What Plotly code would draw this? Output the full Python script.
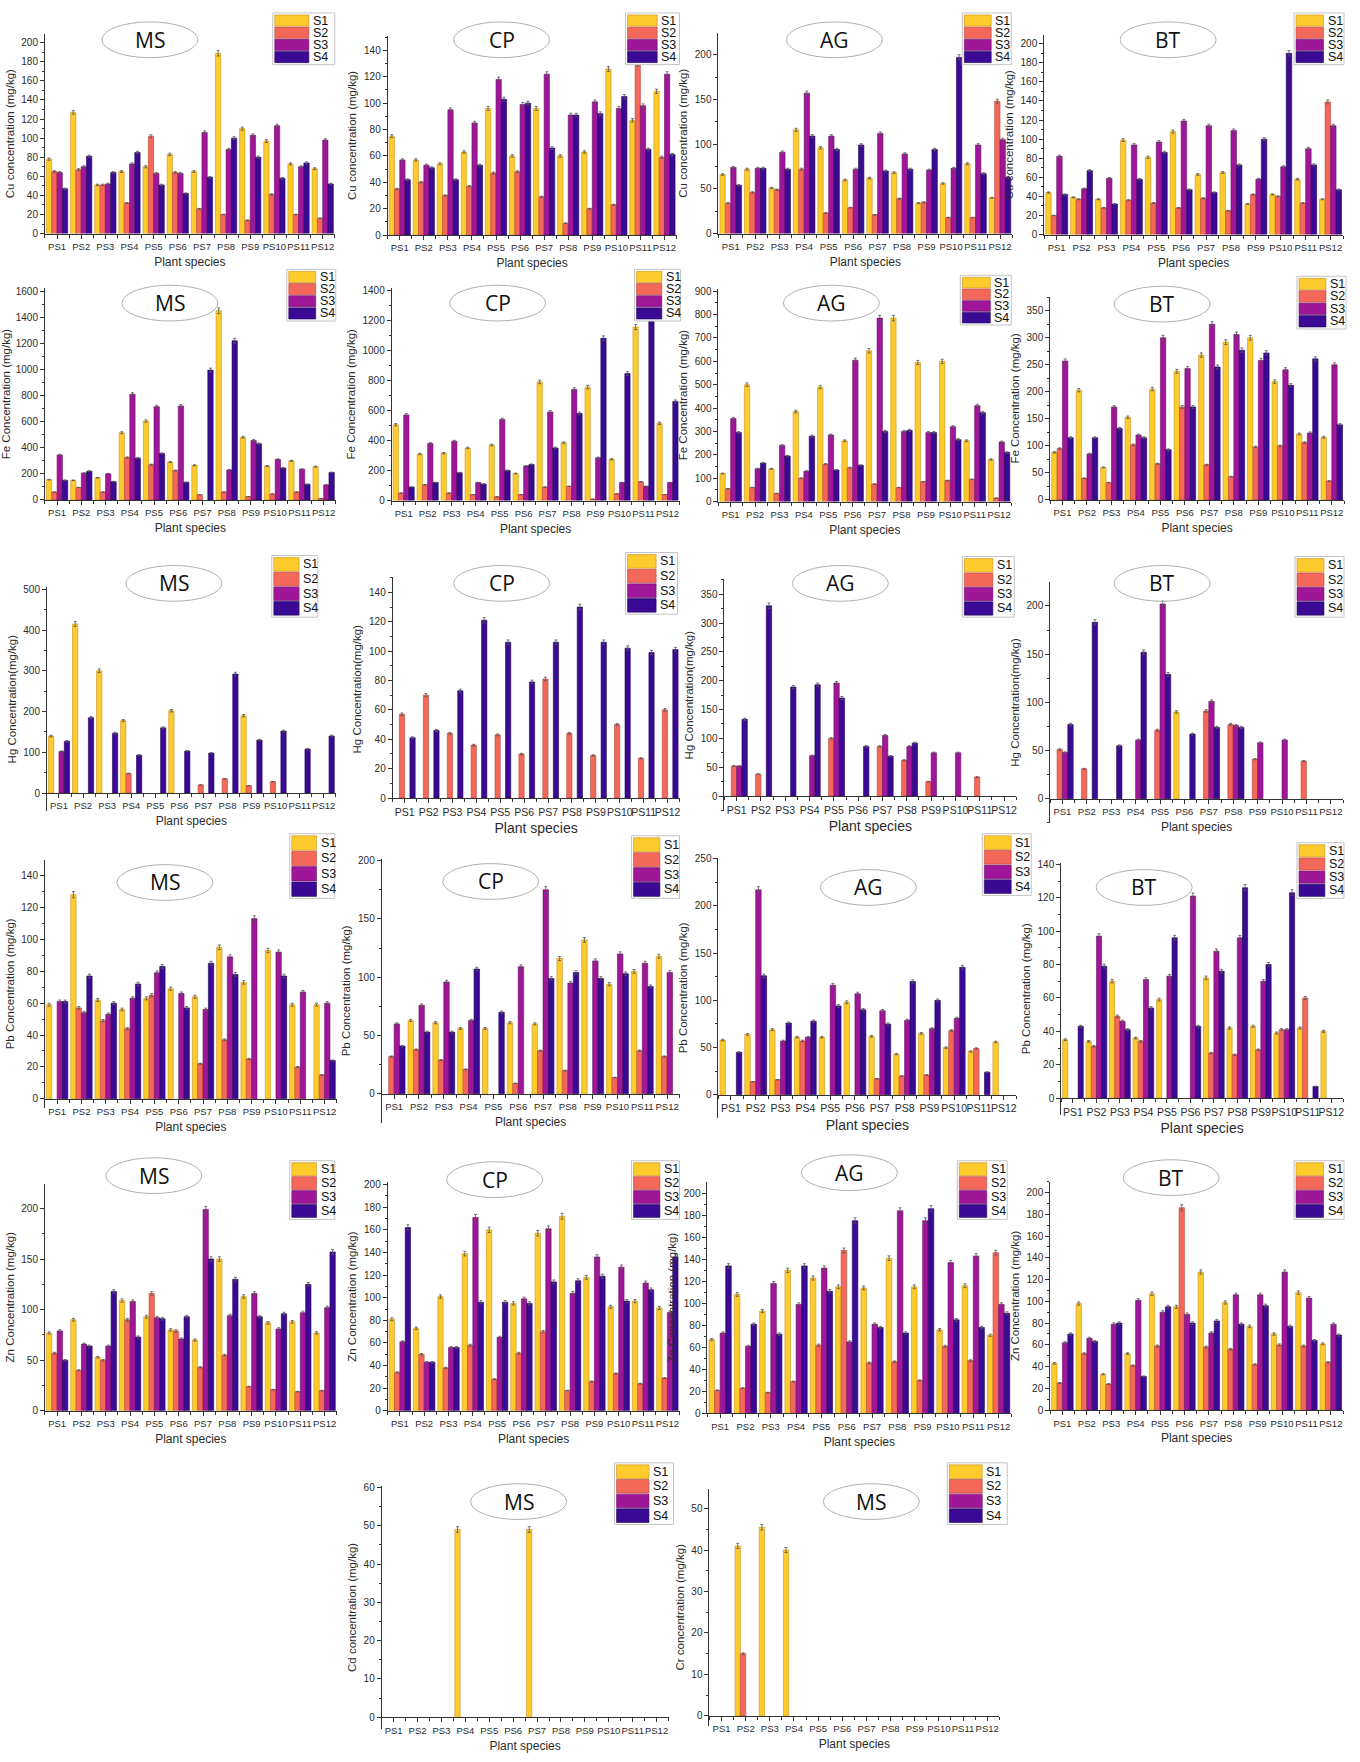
import plotly.graph_objects as go

W, H = 1360, 1762

species = ["PS1", "PS2", "PS3", "PS4", "PS5", "PS6",
           "PS7", "PS8", "PS9", "PS10", "PS11", "PS12"]
series_names = ["S1", "S2", "S3", "S4"]
N = None

# ---------------- Cu (mg/kg) ----------------
cu_ms = [[78, 127, 51, 65, 70, 83, 65, 189, 110, 97, 73, 68],
         [65, 67, 51, 32, 102, 64, 26, 20, 14, 41, 20, 16],
         [64, 70, 52, 73, 63, 63, 106, 88, 103, 113, 70, 98],
         [47, 81, 64, 85, 51, 42, 59, 100, 80, 58, 74, 52]]
cu_cp = [[75, 57, 54, 63, 96, 60, 96, 60, 63, 126, 87, 109],
         [35, 40, 30, 37, 47, 48, 29, 9, 20, 23, 130, 59],
         [57, 53, 95, 85, 118, 99, 122, 91, 101, 96, 98, 122],
         [42, 51, 42, 53, 103, 100, 66, 91, 92, 105, 65, 61]]
cu_ag = [[66, 72, 51, 116, 96, 60, 62, 68, 34, 56, 78, 40],
         [34, 46, 49, 72, 23, 29, 21, 39, 35, 18, 18, 148],
         [74, 73, 91, 157, 109, 72, 112, 89, 71, 73, 99, 105],
         [54, 73, 72, 109, 94, 99, 70, 72, 94, 197, 67, 63]]
cu_bt = [[44, 39, 37, 99, 81, 108, 63, 65, 32, 42, 58, 37],
         [20, 37, 28, 36, 33, 28, 38, 25, 42, 40, 33, 139],
         [82, 48, 59, 94, 97, 119, 114, 109, 58, 71, 90, 114],
         [42, 67, 32, 58, 86, 47, 44, 73, 100, 190, 73, 47]]

# ---------------- Fe (mg/kg) ----------------
fe_ms = [[155, 150, 170, 515, 605, 290, 265, 1450, 480, 260, 300, 255],
         [60, 95, 60, 325, 270, 225, 40, 60, 25, 45, 60, 10],
         [345, 205, 200, 810, 715, 720, N, 230, 455, 310, 235, 115],
         [150, 220, 140, 320, 355, 135, 995, 1220, 430, 245, 120, 210]]
fe_cp = [[505, 310, 315, 350, 370, 180, 790, 385, 755, 275, 1155, 515],
         [50, 105, 50, 40, 25, 40, 90, 95, 10, 45, 125, 40],
         [570, 380, 395, 120, 540, 230, 590, 740, 285, 120, 95, 120],
         [90, 120, 185, 110, 200, 240, 350, 580, 1080, 845, 1215, 660]]
fe_ag = [[120, 500, 140, 385, 490, 260, 645, 785, 595, 600, 260, 180],
         [55, 60, 35, 100, 160, 145, 75, 60, 85, 90, 95, 15],
         [355, 140, 240, 130, 285, 605, 785, 300, 295, 320, 410, 255],
         [295, 165, 195, 280, 135, 155, 300, 305, 295, 265, 380, 210]]
fe_bt = [[88, 203, 60, 153, 205, 238, 268, 292, 300, 219, 122, 116],
         [95, 40, 32, 102, 67, 172, 65, 43, 98, 100, 106, 35],
         [257, 85, 172, 120, 300, 243, 325, 306, 258, 241, 124, 250],
         [115, 115, 132, 115, 93, 172, 246, 277, 272, 212, 261, 139]]

# ---------------- Hg (mg/kg) ----------------
hg_ms = [[140, 415, 300, 178, N, 202, N, N, 190, N, N, N],
         [N, N, N, 48, N, N, 20, 35, 18, 28, N, N],
         [102, N, N, N, N, N, N, N, N, N, N, N],
         [127, 185, 147, 93, 160, 103, 98, 292, 130, 152, 108, 140]]
hg_cp = [[N] * 12,
         [57, 70, 44, 36, 43, 30, 81, 44, 29, 50, 27, 60],
         [N] * 12,
         [41, 46, 73, 121, 106, 79, 106, 130, 106, 102, 99, 101]]
hg_ag = [[N] * 12,
         [52, 38, N, N, 100, N, 86, 62, 25, N, 33, N],
         [52, N, N, 70, 196, N, 105, 86, 75, 75, N, N],
         [133, 330, 189, 193, 170, 86, 69, 92, N, N, N, N]]
hg_bt = [[N, N, N, N, N, 90, N, N, N, N, N, N],
         [51, 31, N, N, 71, N, 91, 77, 41, N, 39, N],
         [48, N, N, 61, 202, N, 101, 76, 58, 61, N, N],
         [77, 183, 55, 152, 129, 67, 74, 74, N, N, N, N]]

# ---------------- Pb (mg/kg) ----------------
pb_ms = [[59, 128, 62, 56, 63, 69, 64, 95, 73, 93, 59, 59],
         [N, 57, 49, 44, 65, N, 22, 37, 25, N, 20, 15],
         [61, 54, 53, 63, 79, 66, 56, 89, 113, 92, 67, 60],
         [61, 77, 60, 72, 83, 57, 85, 78, N, 77, N, 24]]
pb_cp = [[N, 63, 61, 56, 56, 61, 60, 116, 132, 94, 105, 118],
         [32, 38, 29, 21, N, 9, 37, 20, N, 14, 37, 32],
         [60, 76, 96, 63, N, 109, 175, 95, 114, 120, 112, 104],
         [41, 53, 53, 107, 70, N, 99, 104, 99, 103, 92, N]]
pb_ag = [[58, 64, 69, 61, 61, 98, 62, 43, 65, 50, 46, 56],
         [N, 14, 16, 57, N, N, 17, 20, 21, 68, 49, N],
         [N, 217, 57, 61, 116, 107, 89, 79, 70, 81, N, N],
         [45, 126, 76, 78, 94, 90, 75, 120, 100, 135, 24, N]]
pb_bt = [[35, 34, 70, 36, 59, N, 72, 42, 43, 39, 42, 40],
         [N, 31, 49, 34, N, N, 27, 26, 29, 41, 60, N],
         [N, 97, 46, 71, 73, 121, 88, 96, 70, 41, N, N],
         [43, 79, 41, 54, 96, 43, 76, 126, 80, 123, 7, N]]

# ---------------- Zn (mg/kg) ----------------
zn_ms = [[77, 90, 53, 109, 93, 80, 70, 150, 113, 87, 88, 77],
         [57, 40, 50, 90, 116, 79, 43, 55, 24, 21, 19, 20],
         [79, 66, 64, 108, 92, 71, 199, 94, 116, 81, 97, 102],
         [50, 64, 118, 73, 91, 93, 150, 130, 93, 96, 125, 157]]
zn_cp = [[81, 73, 101, 139, 160, 95, 157, 172, 118, 92, 97, 91],
         [34, 50, 38, 58, 28, 51, 70, 18, 26, 33, 24, 29],
         [61, 43, 56, 171, 65, 99, 161, 104, 136, 127, 113, 87],
         [162, 43, 56, 96, 96, 95, 114, 115, 119, 97, 107, 136]]
zn_ag = [[67, 108, 93, 130, 123, 115, 114, 141, 115, 76, 116, 71],
         [21, 23, 19, 29, 62, 148, 46, 47, 30, 61, 48, 146],
         [73, 61, 118, 99, 132, 65, 81, 184, 175, 137, 143, 99],
         [134, 81, 72, 134, 111, 175, 78, 73, 186, 85, 78, 91]]
zn_bt = [[43, 98, 33, 52, 107, 95, 127, 99, 77, 70, 108, 61],
         [25, 52, 24, 41, 59, 186, 58, 56, 42, 60, 59, 44],
         [62, 66, 79, 101, 90, 88, 71, 106, 106, 127, 103, 79],
         [70, 63, 80, 31, 95, 80, 82, 79, 96, 77, 64, 69]]

# ---------------- Cd / Cr (mg/kg) ----------------
cd_ms = [[N, N, N, 49, N, N, 49, N, N, N, N, N],
         [N] * 12, [N] * 12, [N] * 12]
cr_ms = [[N, 41, 45.5, 40, N, N, N, N, N, N, N, N],
         [N, 15, N, N, N, N, N, N, N, N, N, N],
         [N] * 12, [N] * 12]

# ---------------- styling ----------------
COLORS = ["#FDCB2C", "#F4685A", "#9F1699", "#3A0A94"]
EDGES = ["#C98F22", "#B8453A", "#6B0F68", "#220558"]
FONT = "Liberation Sans, Arial, sans-serif"
TXT = "#2b2b2b"

# Panel layout in page pixels:
# x0/x1 = plot extent, zero = pixel row of y=0, ref/ref_px = a labelled tick
# and its pixel row, top/bottom = ends of the y-axis line.
PANELS = [
    # Cu
    dict(data=cu_ms, site="MS", ytitle="Cu concentration (mg/kg)", x0=45, x1=335, zero=230, ref=200, ref_px=38, top=29, bottom=230, dtick=20,
         legend=(273, 8, 335, 60), ell=(150, 35)),
    dict(data=cu_cp, site="CP", ytitle="Cu concentration (mg/kg)", x0=388, x1=677, zero=231.5, ref=140, ref_px=45.7, top=31, bottom=231.5, dtick=20,
         legend=(626, 8, 680, 60), ell=(502, 35)),
    dict(data=cu_ag, site="AG", ytitle="Cu concentration (mg/kg)", x0=719, x1=1013, zero=230, ref=200, ref_px=50, top=28, bottom=230, dtick=50,
         legend=(963, 8, 1012, 60), ell=(835, 35)),
    dict(data=cu_bt, site="BT", ytitle="Cu concentration (mg/kg)", x0=1045, x1=1344, zero=231, ref=200, ref_px=39, top=30, bottom=231, dtick=20,
         legend=(1295, 8, 1345, 60), ell=(1169, 35)),
    # Fe
    dict(data=fe_ms, site="MS", ytitle="Fe Concentration (mg/kg)", x0=45, x1=336, zero=498, ref=1600, ref_px=288, top=285, bottom=498, dtick=200,
         legend=(287, 266, 336, 318), ell=(170, 300)),
    dict(data=fe_cp, site="CP", ytitle="Fe Concentration (mg/kg)", x0=392, x1=680, zero=498.7, ref=1400, ref_px=287, top=284.7, bottom=498.7, dtick=200,
         legend=(635, 266, 681, 318), ell=(498, 300)),
    dict(data=fe_ag, site="AG", ytitle="Fe Concentration (mg/kg)", x0=719, x1=1012, zero=499.7, ref=900, ref_px=288, top=285.3, bottom=499.7, dtick=100,
         legend=(961, 272, 1012, 322), ell=(832, 300)),
    dict(data=fe_bt, site="BT", ytitle="Fe Concentration (mg/kg)", x0=1051, x1=1345, zero=498, ref=350, ref_px=307.7, top=293.7, bottom=498, dtick=50,
         legend=(1298, 273, 1347, 326), ell=(1163, 301)),
    # Hg
    dict(data=hg_ms, site="MS", ytitle="Hg Concentration(mg/kg)", x0=47, x1=336, zero=793, ref=500, ref_px=588, top=586, bottom=811, dtick=100,
         legend=(272, 554, 318, 616), ell=(174, 582)),
    dict(data=hg_cp, site="CP", ytitle="Hg Concentration(mg/kg)", x0=393, x1=680, zero=798, ref=140, ref_px=591, top=576, bottom=801, dtick=20,
         legend=(626, 551, 678, 613), ell=(502, 582), big=True),
    dict(data=hg_ag, site="AG", ytitle="Hg Concentration(mg/kg)", x0=725, x1=1017, zero=796, ref=350, ref_px=593, top=578, bottom=811, dtick=50,
         legend=(963, 555, 1015, 616), ell=(841, 582), big=True),
    dict(data=hg_bt, site="BT", ytitle="Hg Concentration(mg/kg)", x0=1051, x1=1344, zero=798.7, ref=200, ref_px=604.7, top=580.7, bottom=823, dtick=50,
         legend=(1296, 555, 1345, 616), ell=(1163, 582)),
    # Pb
    dict(data=pb_ms, site="MS", ytitle="Pb Concentration (mg/kg)", x0=45, x1=337, zero=1100.7, ref=140, ref_px=876, top=860, bottom=1110, dtick=20,
         legend=(290, 834, 335, 899), ell=(165, 883)),
    dict(data=pb_cp, site="CP", ytitle="Pb Concentration (mg/kg)", x0=382, x1=680, zero=1095.7, ref=200, ref_px=861, top=859, bottom=1125, dtick=50,
         legend=(632, 836, 680, 899), ell=(491, 882)),
    dict(data=pb_ag, site="AG", ytitle="Pb Concentration (mg/kg)", x0=719, x1=1017, zero=1096.7, ref=250, ref_px=859, top=858, bottom=1120, dtick=50,
         legend=(983, 834, 1032, 896), ell=(869, 888), big=True),
    dict(data=pb_bt, site="BT", ytitle="Pb Concentration (mg/kg)", x0=1062, x1=1344, zero=1100, ref=140, ref_px=864.7, top=863, bottom=1116.7, dtick=20,
         legend=(1298, 843, 1345, 899), ell=(1145, 888), big=True),
    # Zn
    dict(data=zn_ms, site="MS", ytitle="Zn Concentration (mg/kg)", x0=45, x1=337, zero=1414.7, ref=200, ref_px=1211, top=1186, bottom=1414.7, dtick=50,
         legend=(290, 1163, 335, 1222), ell=(154, 1178)),
    dict(data=zn_cp, site="CP", ytitle="Zn Concentration (mg/kg)", x0=388, x1=680, zero=1414.7, ref=200, ref_px=1187, top=1184.7, bottom=1414.7, dtick=20,
         legend=(632, 1163, 680, 1222), ell=(495, 1182)),
    dict(data=zn_ag, site="AG", ytitle="Zn Concentration (mg/kg)", x0=708, x1=1012, zero=1417.3, ref=200, ref_px=1195.7, top=1184.7, bottom=1417.3, dtick=20,
         legend=(958, 1163, 1008, 1222), ell=(850, 1175)),
    dict(data=zn_bt, site="BT", ytitle="Zn Concentration (mg/kg)", x0=1051, x1=1344, zero=1414, ref=200, ref_px=1195, top=1184, bottom=1414, dtick=20,
         legend=(1295, 1163, 1345, 1222), ell=(1172, 1180)),
    # Cd, Cr
    dict(data=cd_ms, site="MS", ytitle="Cd concentration (mg/kg)", x0=382, x1=669, zero=1723, ref=60, ref_px=1491.7, top=1490, bottom=1735, dtick=10,
         legend=(615, 1467, 674, 1529), ell=(519, 1506)),
    dict(data=cr_ms, site="MS", ytitle="Cr concentration (mg/kg)", x0=710, x1=1000, zero=1721.7, ref=50, ref_px=1513, top=1493, bottom=1731.7, dtick=10,
         legend=(948, 1467, 1008, 1529), ell=(872, 1506)),
]


def fx(px):
    return px / W


def fy(py):
    return 1 - py / H


fig = go.Figure()
shapes, annotations = [], []
layout_axes = {}
xs = list(range(1, len(species) + 1))

for i, p in enumerate(PANELS):
    n = i + 1
    suf = "" if n == 1 else str(n)
    xa, ya = "x" + suf, "y" + suf

    scale = p["ref"] / (p["zero"] - p["ref_px"])
    ymax = (p["zero"] - p["top"]) * scale
    ymin = -(p["bottom"] - p["zero"]) * scale
    big = p.get("big", False)

    for k in range(4):
        fig.add_trace(go.Bar(
            x=xs, y=p["data"][k], name=series_names[k],
            xaxis=xa, yaxis=ya, showlegend=False,
            marker=dict(color=COLORS[k], line=dict(color=EDGES[k], width=0.6)),
            error_y=dict(type="percent", value=1.5, color="#555555",
                         thickness=0.8, width=1.5),
        ))

    xaxis = dict(
        domain=[fx(p["x0"]), fx(p["x1"])],
        range=[0.5, 12.5],
        tickmode="array", tickvals=xs, ticktext=species, tickangle=0,
        ticks="outside", ticklen=4, tickwidth=1, tickcolor="#333",
        minor=dict(ticks="outside", tick0=0.5, dtick=1, ticklen=3, tickcolor="#333"),
        showline=True, linecolor="#333", linewidth=1,
        showgrid=False, zeroline=False,
        tickfont=dict(family=FONT, size=10.5 if big else 9.5, color=TXT),
        title=dict(text="Plant species", standoff=6,
                   font=dict(family=FONT, size=14 if big else 12, color=TXT)),
    )
    if p["bottom"] - p["zero"] > 1:
        xaxis.update(anchor="free", position=fy(p["zero"]))
    else:
        xaxis.update(anchor=ya)

    yaxis = dict(
        domain=[fy(p["bottom"]), fy(p["top"])],
        range=[ymin, ymax], anchor=xa,
        tick0=0, dtick=p["dtick"], tickformat="d",
        ticks="outside", ticklen=4, tickwidth=1, tickcolor="#333",
        minor=dict(ticks="outside", dtick=p["dtick"] / 2, ticklen=2, tickcolor="#333"),
        showline=True, linecolor="#333", linewidth=1,
        showgrid=False, zeroline=False,
        tickfont=dict(family=FONT, size=10, color=TXT),
        title=dict(text=p["ytitle"], standoff=4,
                   font=dict(family=FONT, size=11.5, color=TXT)),
    )
    layout_axes["xaxis" + suf] = xaxis
    layout_axes["yaxis" + suf] = yaxis

    # site label inside an ellipse
    cx, cy = p["ell"]
    shapes.append(dict(type="circle", xref="paper", yref="paper",
                       x0=fx(cx - 48), x1=fx(cx + 48), y0=fy(cy + 18), y1=fy(cy - 18),
                       line=dict(color="#B0B0B0", width=1)))
    annotations.append(dict(xref="paper", yref="paper", x=fx(cx), y=fy(cy),
                            text=p["site"], showarrow=False,
                            xanchor="center", yanchor="middle",
                            font=dict(family="Open Sans, sans-serif", size=21, color="#111")))

    # series key
    lx0, ly0, lx1, ly1 = p["legend"]
    shapes.append(dict(type="rect", xref="paper", yref="paper", layer="above",
                       x0=fx(lx0), x1=fx(lx1), y0=fy(ly1), y1=fy(ly0),
                       fillcolor="white", line=dict(color="#C4C4C4", width=1)))
    rh = (ly1 - ly0 - 3) / 4
    sw = (lx1 - lx0) * 0.55
    for k in range(4):
        ty = ly0 + 1.5 + k * rh
        shapes.append(dict(type="rect", xref="paper", yref="paper", layer="above",
                           x0=fx(lx0 + 2), x1=fx(lx0 + 2 + sw),
                           y0=fy(ty + rh - 0.5), y1=fy(ty + 0.5),
                           fillcolor=COLORS[k], line=dict(color=EDGES[k], width=0.6)))
        annotations.append(dict(xref="paper", yref="paper",
                                x=fx(lx0 + sw + 4), y=fy(ty + rh / 2),
                                text=series_names[k], showarrow=False,
                                xanchor="left", yanchor="middle",
                                font=dict(family=FONT, size=12.5, color="#111")))

fig.update_layout(
    width=W, height=H,
    margin=dict(l=0, r=0, t=0, b=0),
    paper_bgcolor="white", plot_bgcolor="white",
    barmode="group", bargap=0.12, bargroupgap=0,
    shapes=shapes, annotations=annotations,
    **layout_axes,
)

fig.write_html("out.html")
